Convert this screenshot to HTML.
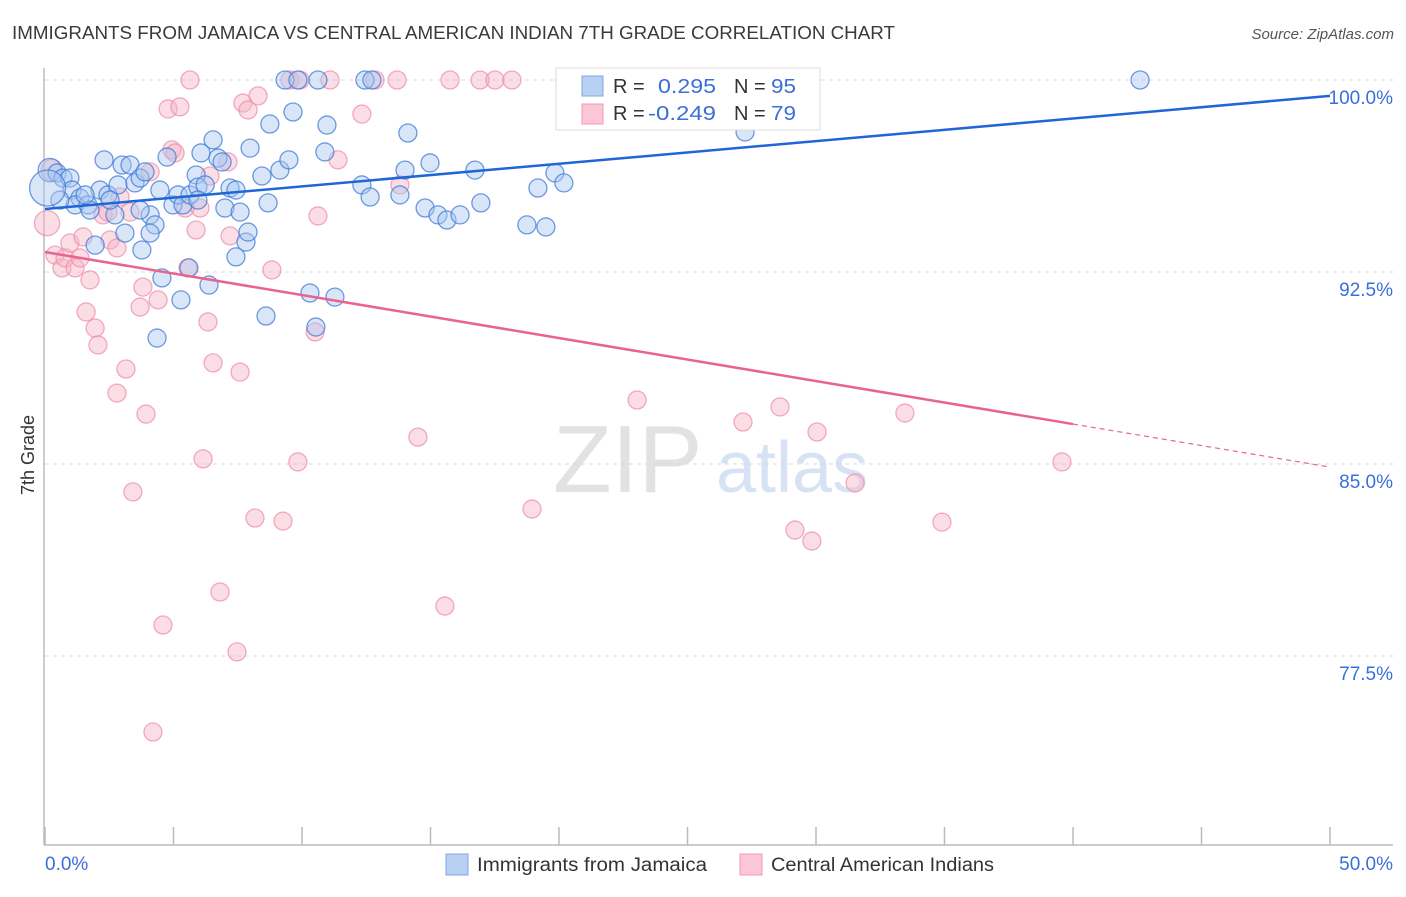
<!DOCTYPE html>
<html><head><meta charset="utf-8"><style>
body{margin:0;background:#fff;font-family:"Liberation Sans",sans-serif;}
svg text{font-family:"Liberation Sans",sans-serif;}
</style></head><body>
<svg id="chart" width="1406" height="892" viewBox="0 0 1406 892">
<text x="12" y="39" font-size="18" fill="#3a3a3a" textLength="883" lengthAdjust="spacingAndGlyphs">IMMIGRANTS FROM JAMAICA VS CENTRAL AMERICAN INDIAN 7TH GRADE CORRELATION CHART</text>
<text x="1394" y="39" font-size="15" fill="#555" font-style="italic" text-anchor="end">Source: ZipAtlas.com</text>
<g>
<text x="553" y="492" font-size="96" font-family="Liberation Serif,serif" fill="#e2e2e2">ZIP</text>
<text x="716" y="492" font-size="72" fill="#d7e3f5">atlas</text>
</g>
<g id="grid"></g>
<line x1="44" y1="68" x2="44" y2="845" stroke="#bbb" stroke-width="1.5"/>
<line x1="44" y1="845" x2="1393" y2="845" stroke="#bbb" stroke-width="1.5"/>
<g id="xticks"></g>
<text x="45" y="870" font-size="19" fill="#3a6fd8">0.0%</text>
<text x="1393" y="870" font-size="19" fill="#3a6fd8" text-anchor="end">50.0%</text>
<text transform="translate(34,455) rotate(-90)" font-size="18" fill="#333" text-anchor="middle">7th Grade</text>
<g id="pts"></g>
<g id="lines"></g>
<g>
<rect x="556" y="68" width="264" height="62" fill="#fff" stroke="#ddd"/>
<rect x="582" y="76" width="21" height="20" fill="#b8d1f3" stroke="#7ea6e6"/>
<rect x="582" y="104" width="21" height="20" fill="#fbc7d6" stroke="#f09ab5"/>
<text x="613" y="93" font-size="20" fill="#333">R = </text><text x="658" y="93" font-size="20" fill="#3a6fd8" textLength="58" lengthAdjust="spacingAndGlyphs">0.295</text>
<text x="734" y="93" font-size="20" fill="#333">N = </text><text x="771" y="93" font-size="20" fill="#3a6fd8" textLength="25" lengthAdjust="spacingAndGlyphs">95</text>
<text x="613" y="120" font-size="20" fill="#333">R = </text><text x="648" y="120" font-size="20" fill="#3a6fd8" textLength="68" lengthAdjust="spacingAndGlyphs">-0.249</text>
<text x="734" y="120" font-size="20" fill="#333">N = </text><text x="771" y="120" font-size="20" fill="#3a6fd8" textLength="25" lengthAdjust="spacingAndGlyphs">79</text>
</g>
<g>
<rect x="446" y="854" width="22" height="21" fill="#b8d1f3" stroke="#7ea6e6"/>
<text x="477" y="871" font-size="19" fill="#333" textLength="230" lengthAdjust="spacingAndGlyphs">Immigrants from Jamaica</text>
<rect x="740" y="854" width="22" height="21" fill="#fbc7d6" stroke="#f09ab5"/>
<text x="771" y="871" font-size="19" fill="#333" textLength="223" lengthAdjust="spacingAndGlyphs">Central American Indians</text>
</g>
</svg>
<script>
const yTicks=[100,92.5,85,77.5];
const yTickLabels=["100.0%","92.5%","85.0%","77.5%"];
const xTicks=[0,5,10,15,20,25,30,35,40,45,50];
const blueX=[0.19,0.47,0.70,0.97,1.05,1.36,1.17,1.67,1.75,2.14,2.30,2.45,2.72,2.84,3.00,3.31,3.50,3.70,3.89,4.09,4.28,4.47,4.75,4.98,5.18,5.37,5.64,5.88,5.95,6.07,6.23,6.54,6.73,6.89,7.00,7.20,7.43,7.59,7.82,7.90,7.43,7.98,8.44,8.68,8.75,9.14,9.49,9.65,10.97,10.89,9.34,9.84,10.62,12.45,12.72,12.33,12.65,13.81,14.01,14.12,14.79,14.98,15.29,15.64,16.15,16.73,16.96,18.75,19.18,19.49,19.84,20.19,20.23,25.80,27.24,42.61,1.95,3.77,5.60,6.38,5.29,4.55,4.36,8.60,10.31,11.28,10.54,3.11,4.09,5.95,0.58,0.10,1.56,2.53,3.70];
const blueY=[96.48,96.37,96.17,96.17,95.70,95.39,95.12,95.12,94.92,95.70,96.88,95.51,94.73,95.90,96.68,96.68,95.98,96.17,96.41,94.73,94.34,95.70,96.99,95.12,95.51,95.12,95.51,96.29,95.82,97.15,95.90,97.66,96.95,96.80,95.00,95.78,95.70,94.84,93.67,94.06,93.09,97.34,96.25,95.20,98.28,96.48,96.88,98.75,98.24,97.19,100,100,100,100,100,95.90,95.43,95.51,96.48,97.93,95.00,96.76,94.73,94.53,94.73,96.48,95.20,94.34,95.78,94.26,96.37,95.98,100,100,97.97,100,93.55,93.36,92.66,91.99,91.41,92.27,89.92,90.78,91.68,91.52,90.35,94.02,94.02,95.31,95.31,95.78,95.51,95.31,94.92];
const blueW=[1.3,1,1,1,1,1,1,1,1,1,1,1,1,1,1,1,1,1,1,1,1,1,1,1,1,1,1,1,1,1,1,1,1,1,1,1,1,1,1,1,1,1,1,1,1,1,1,1,1,1,1,1,1,1,1,1,1,1,1,1,1,1,1,1,1,1,1,1,1,1,1,1,1,1,1,1,1,1,1,1,1,1,1,1,1,1,1,1,1,1,1,2,1,1,1];
const pinkX=[0.08,0.27,0.39,0.66,0.78,0.97,1.17,1.36,1.48,1.60,1.75,1.95,2.06,2.26,2.53,2.80,2.92,3.15,2.80,3.42,3.70,3.81,3.93,4.09,4.40,4.59,4.20,4.79,4.94,5.25,5.06,5.56,5.88,6.03,6.15,6.34,6.42,6.54,6.81,7.12,7.20,7.47,7.59,7.70,7.90,8.17,8.29,8.83,9.26,9.53,9.92,9.84,10.51,10.62,11.09,11.40,12.33,12.84,13.70,13.81,14.51,15.56,15.76,16.93,17.51,18.17,18.95,23.04,27.16,28.60,29.18,29.84,30.04,31.52,33.46,34.90,39.57,2.45,3.31,5.45,5.64];
const pinkY=[94.41,96.48,93.16,92.66,93.05,93.63,92.66,93.05,93.87,90.94,92.19,90.31,89.65,94.73,93.75,93.44,95.43,88.71,87.77,83.91,91.13,91.91,86.95,96.41,91.41,78.71,74.53,98.87,97.27,98.95,97.15,92.66,94.14,95.00,85.20,90.55,96.25,88.95,80.00,96.80,93.91,77.66,88.59,99.10,98.83,82.89,99.38,92.58,82.77,100,100,85.08,90.16,94.69,100,96.88,98.67,100,100,95.90,86.05,79.45,100,100,100,100,83.24,87.50,86.64,87.23,82.42,81.99,86.25,84.26,86.99,82.73,85.08,94.84,94.84,95.00,100];
const pinkW=[1.4,1.2,1,1,1,1,1,1,1,1,1,1,1,1,1,1,1,1,1,1,1,1,1,1,1,1,1,1,1,1,1,1,1,1,1,1,1,1,1,1,1,1,1,1,1,1,1,1,1,1,1,1,1,1,1,1,1,1,1,1,1,1,1,1,1,1,1,1,1,1,1,1,1,1,1,1,1,1,1,1,1];
const blueTrend=[94.96,99.38];
const pinkTrend=[93.28,84.88];
const pinkSolidEnd=40;

const NS="http://www.w3.org/2000/svg";
const sx=v=>45+v/50*1285;
const sy=v=>80+(100-v)/7.5*192;
function mk(tag,attrs,parent){const e=document.createElementNS(NS,tag);for(const k in attrs)e.setAttribute(k,attrs[k]);parent.appendChild(e);return e;}
const grid=document.getElementById('grid');
yTicks.forEach((t,i)=>{
  const l=mk('line',{x1:45,x2:1393,y1:sy(t),y2:sy(t),stroke:'#d8d8d8','stroke-dasharray':'4,4'},grid);
  
  
  const tx=mk('text',{x:1393,y:sy(t)+24,'font-size':19,fill:'#3a6fd8','text-anchor':'end'},grid);
  tx.textContent=yTickLabels[i];
  
  
});
const xt=document.getElementById('xticks');
xTicks.forEach(t=>{
  const l=mk('line',{x1:sx(t),x2:sx(t),y1:827,y2:845,stroke:'#bbb','stroke-width':1.5},xt);
  
  
});
const pts=document.getElementById('pts');
function drawSeries(X,Y,W,fill,stroke,name){
  X.forEach((x,i)=>{
    const c=mk('circle',{cx:sx(x),cy:sy(Y[i]),r:9*W[i],fill:fill,'fill-opacity':0.45,stroke:stroke,'stroke-opacity':0.75,'stroke-width':1.3},pts);
    
    
  });
}
drawSeries(pinkX,pinkY,pinkW,'#f7b3c6','#ee8fac','point-central-american-indians');
drawSeries(blueX,blueY,blueW,'#a9c7f0','#3f7ad8','point-jamaica');
const lines=document.getElementById('lines');
const bl=mk('line',{x1:sx(0),y1:sy(blueTrend[0]),x2:sx(50),y2:sy(blueTrend[1]),stroke:'#1f66d6','stroke-width':2.5},lines);


const pMid=pinkTrend[0]+(pinkTrend[1]-pinkTrend[0])*pinkSolidEnd/50;
const pl=mk('line',{x1:sx(0),y1:sy(pinkTrend[0]),x2:sx(pinkSolidEnd),y2:sy(pMid),stroke:'#e8648f','stroke-width':2.5},lines);


const pd=mk('line',{x1:sx(pinkSolidEnd),y1:sy(pMid),x2:sx(50),y2:sy(pinkTrend[1]),stroke:'#e8648f','stroke-width':1.2,'stroke-dasharray':'5,4'},lines);


</script>
</body></html>
